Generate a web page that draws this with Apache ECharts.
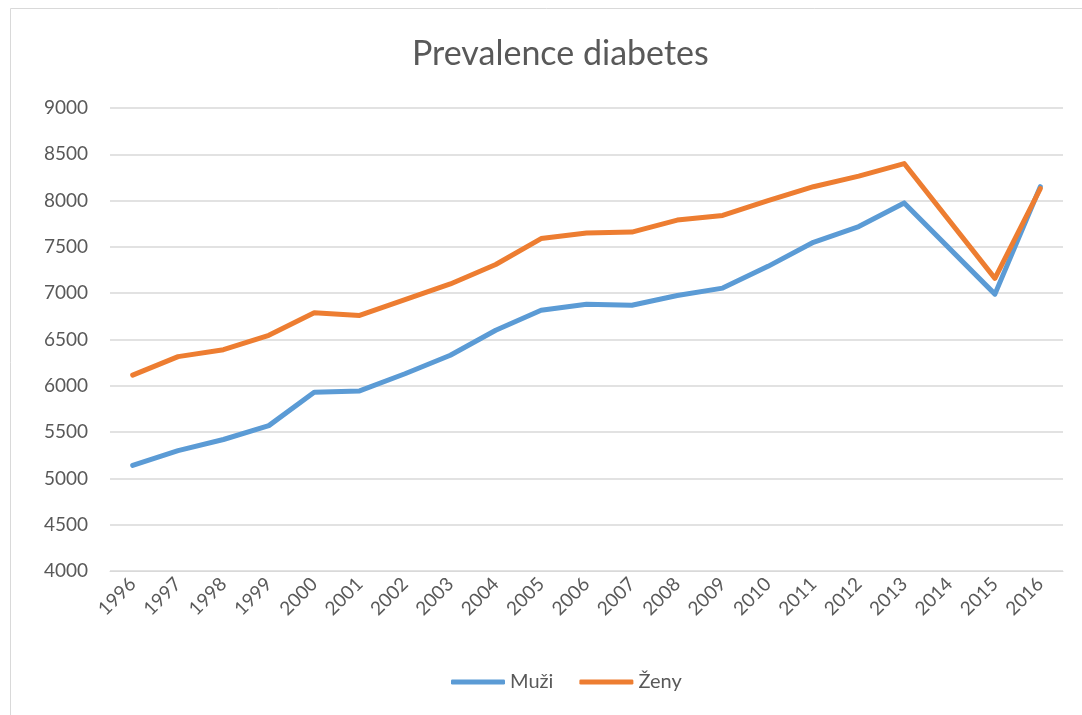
<!DOCTYPE html>
<html>
<head>
<meta charset="utf-8">
<script src="https://cdn.jsdelivr.net/npm/echarts@6/dist/echarts.min.js"></script>
<style>
  html, body { margin: 0; padding: 0; background: #fff; }
  #chart { width: 1082px; height: 715px; }
</style>
</head>
<body>
<div id="chart"></div>
<script>
// ===== Data =====
const years = ['1996','1997','1998','1999','2000','2001','2002','2003','2004','2005','2006',
               '2007','2008','2009','2010','2011','2012','2013','2014','2015','2016'];

// 2014 has no value in the source, the line just bridges it
const muzi = [5140, 5300, 5420, 5570, 5930, 5945, 6130, 6330, 6600, 6815, 6880,
              6870, 6975, 7055, 7290, 7550, 7720, 7975, null, 6990, 8150];
const zeny = [6115, 6315, 6390, 6545, 6790, 6760, 6930, 7100, 7310, 7590, 7650,
              7660, 7790, 7840, 8000, 8150, 8265, 8400, null, 7160, 8130];

const yTicks = { min: 4000, max: 9000, step: 500 };

const FONT = 'Lato, "Open Sans", sans-serif';
const TXT  = '#595959';

// ===== Chart =====
const chart = echarts.init(document.getElementById('chart'), null, { renderer: 'canvas' });

const lineSeries = (name, data, color, z) => ({
  name, type: 'line', data, z,
  connectNulls: true,
  symbol: 'none',
  lineStyle: { width: 5, color, cap: 'round', join: 'round' },
  itemStyle: { color }
});

chart.setOption({
  animation: false,
  textStyle: { fontFamily: FONT },
  graphic: [{
    type: 'rect',
    shape: { x: 10.5, y: 8.5, width: 1200, height: 900 },
    style: { fill: 'none', stroke: '#d9d9d9', lineWidth: 1 },
    silent: true
  }],
  // Excel centres title/legend over the whole chart box, which runs past the right edge
  title: {
    text: 'Prevalence diabetes',
    left: 407,
    top: 32,
    textStyle: { fontFamily: FONT, fontSize: 34, fontWeight: 'normal', color: TXT }
  },
  legend: {
    bottom: 18,
    left: 446,
    itemWidth: 54,
    itemHeight: 5,
    itemGap: 26,
    icon: 'roundRect',
    textStyle: { fontFamily: FONT, fontSize: 20, color: TXT },
    data: ['Muži', 'Ženy']
  },
  grid: { left: 110, right: 19, top: 108, bottom: 144, containLabel: false },
  xAxis: {
    type: 'category',
    data: years,
    boundaryGap: true,
    axisLine: { show: true, lineStyle: { color: '#d9d9d9', width: 1 } },
    axisTick: { show: false },
    axisLabel: { rotate: 45, margin: 10, fontSize: 19, color: TXT, fontFamily: FONT, interval: 0 }
  },
  yAxis: {
    type: 'value',
    min: yTicks.min,
    max: yTicks.max,
    interval: yTicks.step,
    axisLine: { show: false },
    axisTick: { show: false },
    axisLabel: { fontSize: 19, color: TXT, fontFamily: FONT, margin: 22, formatter: v => String(v) },
    splitLine: { lineStyle: { color: '#d9d9d9', width: 1.5 } }
  },
  series: [
    lineSeries('Muži', muzi, '#5B9BD5', 2),
    lineSeries('Ženy', zeny, '#ED7D31', 3)
  ]
});
</script>
</body>
</html>
